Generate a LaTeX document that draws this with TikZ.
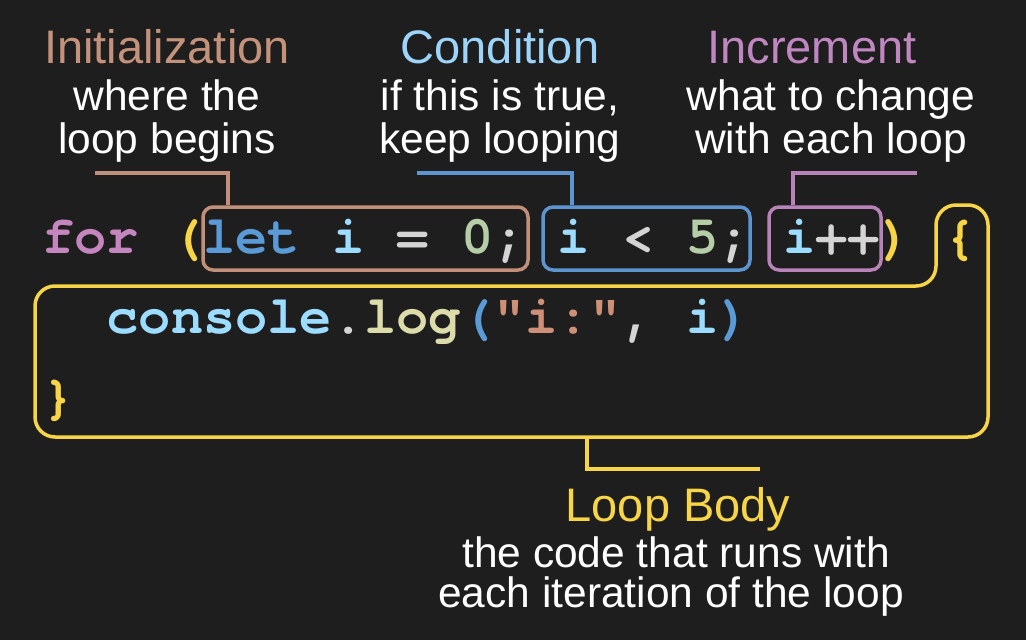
\documentclass[tikz,border=0pt]{standalone}
\usepackage{fontspec}
\setmainfont{Liberation Sans}
\newfontfamily\codefont{TeX Gyre Cursor}[Ligatures=TeXOff]

% editor-style palette
\definecolor{bg}{HTML}{1E1E1E}
\definecolor{ckw}{HTML}{C586C0}
\definecolor{cbrace}{HTML}{F7D547}
\definecolor{clet}{HTML}{5A9AD6}
\definecolor{cvar}{HTML}{9CDCFE}
\definecolor{cop}{HTML}{D4D4D4}
\definecolor{cnum}{HTML}{B5CEA8}
\definecolor{cstr}{HTML}{CE9178}
\definecolor{cfun}{HTML}{DCDCAA}
\definecolor{cparen}{HTML}{5A9AD6}
% annotation colours
\definecolor{cinit}{HTML}{C0907A}
\definecolor{ccond}{HTML}{5D95D0}
\definecolor{cinc}{HTML}{B783B8}
\definecolor{tinit}{HTML}{C4927B}
\definecolor{tcond}{HTML}{9CD5F9}
\definecolor{tinc}{HTML}{C086C0}

\begin{document}
\begin{tikzpicture}[x=1pt,y=-1pt,
  code/.style={anchor=base west, inner sep=0pt,
    font=\codefont\bfseries\fontsize{53.7}{60}\selectfont},
  title/.style={anchor=base, inner sep=0pt, font=\fontsize{47}{50}\selectfont},
  sub/.style={anchor=base, inner sep=0pt, text=white, font=\fontsize{42.5}{46}\selectfont},
  seg/.style={draw, line width=3.5pt, rounded corners=10pt, minimum height=63pt,
    inner sep=0pt},
  link/.style={line width=3.5pt}]
\useasboundingbox (0,0) rectangle (1026,640);
\fill[bg] (0,0) rectangle (1026,640);

% the code
\node[code] (line1) at (42,253) {\textcolor{ckw}{for}\ \textcolor{cbrace}{(}\textcolor{clet}{let}\ \textcolor{cvar}{i}\ \textcolor{cop}{=}\ \textcolor{cnum}{0}\textcolor{cop}{;}\ \textcolor{cvar}{i}\ \textcolor{cop}{<}\ \textcolor{cnum}{5}\textcolor{cop}{;}\ \textcolor{cvar}{i}\textcolor{cop}{++}\textcolor{cbrace}{)}\ \textcolor{cbrace}{\{}};
\node[code] (line2) at (106.4,333) {\textcolor{cvar}{console}\textcolor{cop}{.}\textcolor{cfun}{log}\textcolor{cparen}{(}\textcolor{cstr}{"i:"}\textcolor{cop}{,}\ \textcolor{cvar}{i}\textcolor{cparen}{)}};
\node[code] (line3) at (42,413) {\textcolor{cbrace}{\}}};

% boxes round the three parts of the header
\node[seg, draw=cinit, minimum width=325pt] (init) at (365.5,238.5) {};
\node[seg, draw=ccond, minimum width=207pt] (cond) at (646.5,238.5) {};
\node[seg, draw=cinc, minimum width=112pt] (inc) at (825,238.5) {};

% outline of the loop body
\draw[cbrace, line width=3.5pt, rounded corners=20pt]
  (500,286) -- (936,286) -- (936,205) -- (988,205) -- (988,437)
  -- (35,437) -- (35,286) -- cycle;
\coordinate (body) at (587,437);

% labels
\node[title, text=tinit] (initT) at (167,63) {Initialization};
\node[sub] (initA) at (167,110) {where the};
\node[sub] (initB) at (167,153) {loop begins};

\node[title, text=tcond] (condT) at (500,63) {Condition};
\node[sub] (condA) at (500,110) {if this is true,};
\node[sub] (condB) at (500,153) {keep looping};

\node[title, text=tinc] (incT) at (812,63) {Increment};
\node[sub] (incA) at (831,110) {what to change};
\node[sub] (incB) at (831,153) {with each loop};

\node[title, text=cbrace] (bodyT) at (678,521) {Loop Body};
\node[sub] (bodyA) at (676,567) {the code that runs with};
\node[sub] (bodyB) at (671,607) {each iteration of the loop};

% connectors
\coordinate (initknee) at (228,173);
\coordinate (initend) at (95,173);
\draw[link, cinit] (init.north -| initknee) -- (initknee) -- (initend);

\coordinate (condknee) at (572,173);
\coordinate (condend) at (417,173);
\draw[link, ccond] (cond.north -| condknee) -- (condknee) -- (condend);

\coordinate (incknee) at (793,173);
\coordinate (incend) at (917,173);
\draw[link, cinc] (inc.north -| incknee) -- (incknee) -- (incend);

\coordinate (bodyknee) at (587,469);
\coordinate (bodyend) at (760,469);
\draw[link, cbrace] (body) -- (bodyknee) -- (bodyend);
\end{tikzpicture}
\end{document}
